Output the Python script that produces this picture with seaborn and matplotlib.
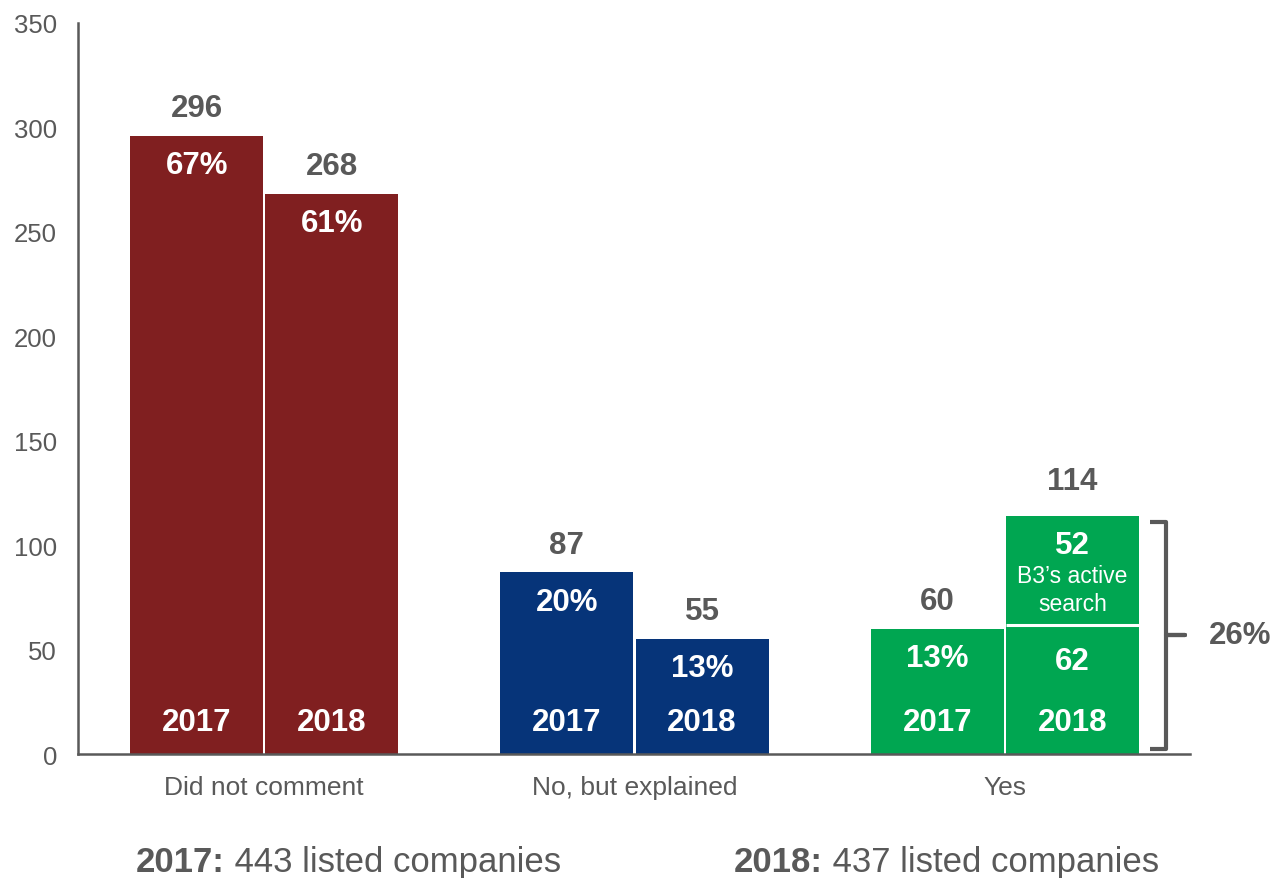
import matplotlib
matplotlib.use("Agg")
import matplotlib.pyplot as plt
import seaborn as sns
import pandas as pd

categories = ["Did not comment", "No, but explained", "Yes"]
years = ["2017", "2018"]
values_2017 = [296, 87, 60]
values_2018 = [268, 55, 114]
pct_2017 = ["67%", "20%", "13%"]
pct_2018 = ["61%", "13%", None]
yes_2018_parts = [62, 52]
yes_2018_note = ["B3\u2019s active", "search"]
yes_2018_share = "26%"
totals_text = [("2017:", " 443 listed companies"), ("2018:", " 437 listed companies")]
cat_colors = ["#801F20", "#063479", "#00A651"]
yticks = [0, 50, 100, 150, 200, 250, 300, 350]

GRAY = "#595959"

sns.set_theme(style="white")
plt.rcParams["font.family"] = ["Liberation Sans", "DejaVu Sans"]

df = pd.DataFrame({
    "category": categories * 2,
    "year": [years[0]] * 3 + [years[1]] * 3,
    "value": values_2017 + values_2018,
})

fig = plt.figure(figsize=(12.74, 8.79), dpi=100)
ax = fig.add_axes([0.0612, 0.141, 0.8728, 0.8317])

sns.barplot(data=df, x="category", y="value", hue="year", order=categories,
            hue_order=years, width=0.73, gap=0.015, linewidth=0,
            palette=["#888888", "#888888"], legend=False, ax=ax, errorbar=None)

ax.set_ylim(0, 350)
ax.set_xlim(-0.503, 2.5)
ax.set_yticks(yticks)
ax.set_xlabel("")
ax.set_ylabel("")
for s in ["top", "right"]:
    ax.spines[s].set_visible(False)
for s in ["left", "bottom"]:
    ax.spines[s].set_color(GRAY)
    ax.spines[s].set_linewidth(1.8)
ax.tick_params(axis="y", length=0, pad=15, labelsize=18.5, labelcolor=GRAY)
ax.tick_params(axis="x", length=0, pad=15, labelsize=19, labelcolor=GRAY)

bold_kw = dict(fontsize=22.5, fontweight="bold", ha="center", va="center",
               textcoords="offset points")

for yi, (cont, vals, pcts) in enumerate(zip(ax.containers, [values_2017, values_2018], [pct_2017, pct_2018])):
    for ci, bar in enumerate(cont):
        bar.set_facecolor(cat_colors[ci])
        cx = bar.get_x() + bar.get_width() / 2
        top = vals[ci]
        off = 25 if top == 114 else 20
        ax.annotate(str(top), xy=(cx, top), xytext=(0, off), color=GRAY, **bold_kw)
        if pcts[ci] is not None:
            ax.annotate(pcts[ci], xy=(cx, top), xytext=(0, -21), color="white", **bold_kw)
        ax.annotate(years[yi], xy=(cx, 0), xytext=(0, 23), color="white", **bold_kw)

# stacked split of Yes 2018
bar = ax.containers[1][2]
x0, w = bar.get_x(), bar.get_width()
cx = x0 + w / 2
low, high = yes_2018_parts
ax.hlines(low, x0, x0 + w, colors="white", linewidth=2.2)
ax.annotate(str(low), xy=(cx, low), xytext=(0, -26.5), color="white", **bold_kw)
ax.annotate(str(high), xy=(cx, low + high), xytext=(0, -21), color="white", **bold_kw)
ax.annotate(yes_2018_note[0], xy=(cx, low + high), xytext=(0, -43), textcoords="offset points",
            ha="center", va="center", color="white", fontsize=16.5)
ax.annotate(yes_2018_note[1], xy=(cx, low + high), xytext=(0, -63), textcoords="offset points",
            ha="center", va="center", color="white", fontsize=16.5)

# bracket
total = low + high
mid = total / 2
bx = [2.392, 2.435, 2.435, 2.486, 2.435, 2.435, 2.392]
by = [total - 3, total - 3, mid, mid, mid, 2.5, 2.5]
ax.plot(bx, by, color=GRAY, linewidth=3, solid_joinstyle="round", solid_capstyle="butt", clip_on=False)
ax.text(2.635, mid, yes_2018_share, ha="center", va="center", fontsize=22.5,
        fontweight="bold", color=GRAY, clip_on=False)

# bottom totals
for (b, r), xpos in zip(totals_text, [136 / 1274, 734 / 1274]):
    t = fig.text(xpos, 0.0085, b, fontsize=25, fontweight="bold", color=GRAY,
                 ha="left", va="baseline")
    ax.annotate(r, xy=(1, 0), xycoords=t, ha="left", va="bottom",
                fontsize=25, color=GRAY)

fig.savefig("out.png", dpi=100)
